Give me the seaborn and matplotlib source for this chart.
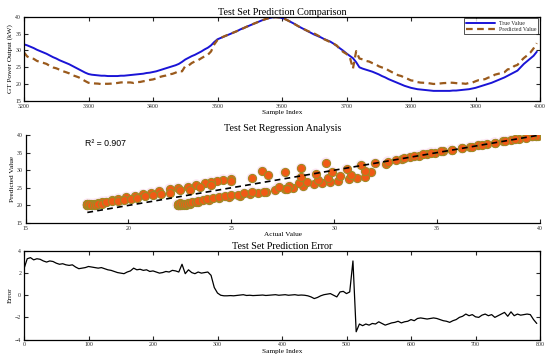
import numpy as np
import pandas as pd
import matplotlib
matplotlib.use("Agg")
import matplotlib.pyplot as plt
import seaborn as sns

# ---------------- data ----------------
start_index = 3200
step = 5

actual_values = [
    31.8, 31.5, 31.1, 30.7, 30.2, 29.8, 29.4, 29.0, 28.5, 28.0,
    27.6, 27.1, 26.7, 26.3, 25.9, 25.4, 24.9, 24.4, 23.9, 23.4,
    23.0, 22.8, 22.7, 22.6, 22.5, 22.5, 22.4, 22.4, 22.4, 22.4,
    22.5, 22.5, 22.6, 22.7, 22.8, 22.9, 23.0, 23.1, 23.3, 23.4,
    23.6, 23.8, 24.1, 24.4, 24.7, 25.0, 25.3, 25.6, 26.0, 26.6,
    27.3, 27.8, 28.3, 28.7, 29.2, 29.7, 30.3, 30.8, 31.5, 32.5,
    33.3, 33.7, 34.1, 34.5, 34.9, 35.3, 35.7, 36.2, 36.6, 37.0,
    37.4, 37.8, 38.2, 38.6, 39.0, 39.3, 39.6, 39.8, 39.9, 39.8,
    39.6, 39.3, 38.8, 38.3, 37.8, 37.2, 36.7, 36.2, 35.7, 35.2,
    34.7, 34.3, 33.9, 33.4, 33.0, 32.6, 32.0, 31.3, 30.6, 29.9,
    29.1, 28.4, 27.7, 26.5, 25.0, 24.6, 24.3, 24.0, 23.7, 23.3,
    22.9, 22.4, 22.0, 21.5, 21.1, 20.7, 20.3, 19.9, 19.5, 19.2,
    18.9, 18.7, 18.5, 18.4, 18.3, 18.2, 18.1, 18.0, 18.0, 18.0,
    18.0, 18.0, 18.0, 18.1, 18.1, 18.2, 18.3, 18.4, 18.5, 18.7,
    18.9, 19.2, 19.5, 19.8, 20.1, 20.4, 20.8, 21.2, 21.6, 22.0,
    22.5, 23.0, 23.5, 24.0, 25.0, 26.0, 26.8, 27.6, 28.4, 29.6,
]

error_values = [
    2.4, 3.3, 3.4, 3.2, 3.3, 3.25, 3.1, 3.0, 3.1, 3.05,
    2.9, 2.8, 2.85, 2.75, 2.7, 2.75, 2.55, 2.4, 2.45, 2.5,
    2.6, 2.55, 2.5, 2.45, 2.5, 2.4, 2.3, 2.25, 2.15, 2.05,
    2.0, 1.95, 2.1, 2.2, 2.45, 2.3, 2.35, 2.25, 2.3, 2.15,
    2.2, 2.1, 2.0, 2.05, 2.15, 2.1, 2.25, 2.2, 2.1, 2.8,
    1.95, 2.3, 2.05, 1.95, 2.1, 2.0, 2.05, 2.1, 1.8, 0.7,
    0.2, 0.0, -0.05, -0.05, -0.03, -0.05, -0.02, 0.0, 0.05, -0.02,
    0.0, -0.03, -0.02, 0.0, 0.02, -0.02, 0.0, 0.03, 0.05, 0.0,
    0.02, 0.05, 0.0, 0.03, 0.05, 0.0, 0.02, 0.0, -0.05, -0.15,
    -0.3, -0.2, -0.05, 0.05, 0.1, 0.15, 0.0, -0.15, 0.3, 0.35,
    0.15, 0.3, 3.1, -3.3, -2.6, -2.75, -2.6, -2.7, -2.55, -2.6,
    -2.4, -2.55, -2.7, -2.6, -2.5, -2.45, -2.35, -2.5, -2.4, -2.35,
    -2.2, -2.3, -2.1, -2.05, -2.1, -2.15, -2.1, -2.05, -2.1, -2.2,
    -2.3, -2.35, -2.45, -2.3, -2.2, -2.0, -1.9, -1.7, -1.85, -1.75,
    -1.95, -2.0, -1.8, -1.7, -1.85, -1.75, -2.0, -1.85, -1.7, -1.55,
    -1.9, -1.5, -1.85, -1.7, -1.8, -1.75, -1.7, -1.75, -2.2, -2.55,
]

r2_label = "R\u00b2 = 0.907"
titles = ["Test Set Prediction Comparison", "Test Set Regression Analysis",
          "Test Set Prediction Error"]
legend_labels = ["True Value", "Predicted Value"]

# ---------------- derived table ----------------
actual = np.array(actual_values)
error = np.array(error_values)
offset = np.arange(len(actual)) * step
df = pd.DataFrame({
    "offset": offset,
    "sample": start_index + offset,
    "actual": actual,
    "predicted": actual - error,
    "error": error,
})
ideal = pd.DataFrame({"x": [actual.min(), actual.max()],
                      "y": [actual.min(), actual.max()]})

# ---------------- style ----------------
sns.set_theme(style="ticks")
plt.rcParams["font.family"] = ["Liberation Serif", "DejaVu Serif"]
plt.rcParams.update({
    "axes.edgecolor": "black",
    "axes.linewidth": 0.9,
    "xtick.direction": "in",
    "ytick.direction": "in",
    "xtick.major.size": 3.2,
    "ytick.major.size": 3.2,
    "xtick.major.width": 0.8,
    "ytick.major.width": 0.8,
    "xtick.labelsize": 4.2,
    "ytick.labelsize": 4.2,
    "xtick.major.pad": 2.0,
    "ytick.major.pad": 2.0,
})

W, H = 550, 355
fig = plt.figure(figsize=(W / 100, H / 100), dpi=100)
ax1 = fig.add_axes([24 / W, 1 - 101 / H, 516 / W, 84.3 / H])
ax2 = fig.add_axes([25.6 / W, 1 - 223 / H, 514.4 / W, 88 / H])
ax3 = fig.add_axes([24 / W, 1 - 339.5 / H, 516 / W, 88.5 / H])

title_kw = dict(fontsize=7.3, color="black")
label_kw = dict(fontsize=5.2, color="black")

# ---- top: comparison ----
sns.lineplot(data=df, x="sample", y="actual", ax=ax1, color="#1a14d6",
             linewidth=1.4, label=legend_labels[0])
sns.lineplot(data=df, x="sample", y="predicted", ax=ax1, color="#9a5a1c",
             linewidth=1.6, linestyle=(0, (3.0, 2.0)), label=legend_labels[1])
ax1.set_xlim(3200, 4000)
ax1.set_ylim(15, 40)
ax1.set_xticks(np.arange(3200, 4001, 100))
ax1.set_yticks(np.arange(15, 41, 5))
ax1.tick_params(top=True, right=True)
ax1.set_title(titles[0], pad=1.5, **title_kw)
ax1.set_xlabel("Sample Index", labelpad=1.0, **label_kw)
ax1.set_ylabel("GT Power Output (kW)", labelpad=1.5, **label_kw)
leg = ax1.legend(loc="upper right", fontsize=4.2, frameon=True, fancybox=False,
                 edgecolor="black", borderaxespad=0.3, handlelength=5.0,
                 borderpad=0.35, labelspacing=0.25, handletextpad=0.6)
leg.get_frame().set_linewidth(0.6)

# ---- middle: regression ----
sns.scatterplot(data=df, x="actual", y="predicted", ax=ax2, s=60,
                color="#fce6f4", edgecolor="none", linewidth=0, zorder=1)
sns.scatterplot(data=df, x="actual", y="predicted", ax=ax2, s=34,
                color="#f05a16", edgecolor="#a08a24", linewidth=0.8, zorder=2)
sns.lineplot(data=ideal, x="x", y="y", ax=ax2, color="black",
             linestyle=(0, (3.5, 2.5)), linewidth=1.2, zorder=3)
ax2.set_xlim(15, 40)
ax2.set_ylim(15, 40)
ax2.set_xticks(np.arange(15, 41, 5))
ax2.set_yticks(np.arange(15, 41, 5))
sns.despine(ax=ax2)
ax2.set_title(titles[1], pad=3, **title_kw)
ax2.set_xlabel("Actual Value", labelpad=1.0, **label_kw)
ax2.set_ylabel("Predicted Value", labelpad=1.5, **label_kw)
ax2.text(17.9, 37.6, r2_label, fontsize=6.3, va="center", ha="left",
         family=["Liberation Sans", "DejaVu Sans"], color="black")

# ---- bottom: error ----
sns.lineplot(data=df, x="offset", y="error", ax=ax3, color="black",
             linewidth=0.9)
ax3.set_xlim(0, 800)
ax3.set_ylim(-4, 4)
ax3.set_xticks(np.arange(0, 801, 100))
ax3.set_yticks(np.arange(-4, 5, 2))
ax3.tick_params(top=True, right=True)
ax3.set_title(titles[2], pad=1.5, **title_kw)
ax3.set_xlabel("Sample Index", labelpad=1.0, **label_kw)
ax3.set_ylabel("Error", labelpad=1.5, **label_kw)

fig.savefig("out.png", dpi=100)
